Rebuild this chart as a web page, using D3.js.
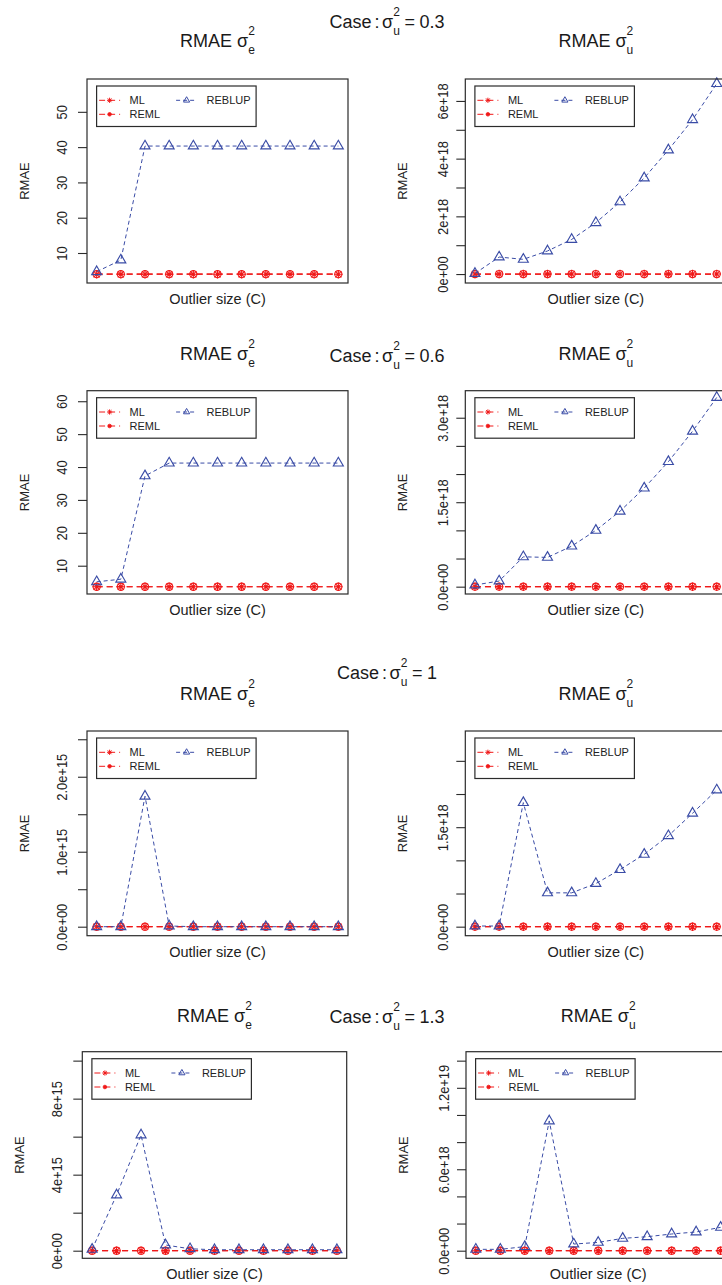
<!DOCTYPE html>
<html><head><meta charset="utf-8">
<script src="https://cdn.jsdelivr.net/npm/d3@7"></script>
<style>
body{margin:0;background:#fff}
svg{display:block}
text{font-family:"Liberation Sans",Arial,Helvetica,sans-serif}
</style>
</head><body>
<svg id="chart" width="722" height="1285"></svg>
<script>
// ---------------- DATA ----------------
const outlierSize = [1,2,3,4,5,6,7,8,9,10,11];
const seriesNames = ["ML","REML","REBLUP"];
const caseValues = ["0.3","0.6","1","1.3"];

// Case sigma_u^2 = 0.3
const ml_e_03     = [4.0,4.0,4.0,4.0,4.0,4.0,4.0,4.0,4.0,4.0,4.0];
const reml_e_03   = [4.0,4.0,4.0,4.0,4.0,4.0,4.0,4.0,4.0,4.0,4.0];
const reblup_e_03 = [4.7,8.0,40.3,40.3,40.3,40.3,40.3,40.3,40.3,40.3,40.3];
const ml_u_03     = [1,1,1,1,1,1,1,1,1,1,1];
const reml_u_03   = [1,1,1,1,1,1,1,1,1,1,1];
const reblup_u_03 = [0.02e18,0.59e18,0.51e18,0.80e18,1.20e18,1.78e18,2.50e18,3.33e18,4.30e18,5.35e18,6.60e18];

// Case sigma_u^2 = 0.6
const ml_e_06     = [3.6,3.6,3.6,3.6,3.6,3.6,3.6,3.6,3.6,3.6,3.6];
const reml_e_06   = [3.6,3.6,3.6,3.6,3.6,3.6,3.6,3.6,3.6,3.6,3.6];
const reblup_e_06 = [5.1,5.9,37.3,41.2,41.2,41.2,41.2,41.2,41.2,41.2,41.2];
const ml_u_06     = [1,1,1,1,1,1,1,1,1,1,1];
const reml_u_06   = [1,1,1,1,1,1,1,1,1,1,1];
const reblup_u_06 = [0.03e18,0.10e18,0.53e18,0.52e18,0.72e18,1.00e18,1.34e18,1.75e18,2.22e18,2.76e18,3.36e18];

// Case sigma_u^2 = 1
const ml_e_1      = [3.5,3.5,3.5,3.5,3.5,3.5,3.5,3.5,3.5,3.5,3.5];
const reml_e_1    = [3.5,3.5,3.5,3.5,3.5,3.5,3.5,3.5,3.5,3.5,3.5];
const reblup_e_1  = [0,0,1.74e15,0.01e15,0,0,0,0,0,0,0];
const ml_u_1      = [1,1,1,1,1,1,1,1,1,1,1];
const reml_u_1    = [1,1,1,1,1,1,1,1,1,1,1];
const reblup_u_1  = [0.01e18,0.01e18,1.87e18,0.51e18,0.51e18,0.65e18,0.86e18,1.09e18,1.37e18,1.71e18,2.06e18];

// Case sigma_u^2 = 1.3
const ml_e_13     = [3.5,3.5,3.5,3.5,3.5,3.5,3.5,3.5,3.5,3.5,3.5];
const reml_e_13   = [3.5,3.5,3.5,3.5,3.5,3.5,3.5,3.5,3.5,3.5,3.5];
const reblup_e_13 = [0.07e15,2.93e15,6.09e15,0.30e15,0.10e15,0.05e15,0.05e15,0.05e15,0.05e15,0.05e15,0.05e15];
const ml_u_13     = [1,1,1,1,1,1,1,1,1,1,1];
const reml_u_13   = [1,1,1,1,1,1,1,1,1,1,1];
const reblup_u_13 = [0.10e18,0.10e18,0.30e18,9.56e18,0.49e18,0.61e18,0.91e18,1.03e18,1.23e18,1.38e18,1.72e18];

// Tick values and tick labels
const ticks_e_03 = [10,20,30,40,50];
const labels_e_03 = ["10","20","30","40","50"];
const ticks_u_03 = [0,1e18,2e18,3e18,4e18,5e18,6e18];
const labels_u_03 = ["0e+00","","2e+18","","4e+18","","6e+18"];
const ticks_e_06 = [10,20,30,40,50,60];
const labels_e_06 = ["10","20","30","40","50","60"];
const ticks_u_06 = [0,0.5e18,1e18,1.5e18,2e18,2.5e18,3e18];
const labels_u_06 = ["0.0e+00","","","1.5e+18","","","3.0e+18"];
const ticks_e_1 = [0,0.5e15,1e15,1.5e15,2e15,2.5e15];
const labels_e_1 = ["0.0e+00","","1.0e+15","","2.0e+15",""];
const ticks_u_1 = [0,0.5e18,1e18,1.5e18,2e18,2.5e18];
const labels_u_1 = ["0.0e+00","","","1.5e+18","",""];
const ticks_e_13 = [0,2e15,4e15,6e15,8e15,10e15];
const labels_e_13 = ["0e+00","","4e+15","","8e+15",""];
const ticks_u_13 = [0,2e18,4e18,6e18,8e18,10e18,12e18,14e18];
const labels_u_13 = ["0.0e+00","","","6.0e+18","","","1.2e+19",""];

// ---------------- STYLE / LAYOUT ----------------
const RED = "#f01818", BLUE = "#3a4ca6", BOX = "#2b2b2b";
const svg = d3.select("#chart");

const panels = [
  {box:[87,79,348,283],      dom:[1.5,59.3],        ml:ml_e_03, reml:reml_e_03, rb:reblup_e_03, t:ticks_e_03, l:labels_e_03, sub:"e", tb:47, gap:20},
  {box:[465.3,79,726.4,283], dom:[-0.31e18,6.76e18], ml:ml_u_03, reml:reml_u_03, rb:reblup_u_03, t:ticks_u_03, l:labels_u_03, sub:"u", tb:47, gap:17},
  {box:[87,390.7,348,594],   dom:[1.4,63.2],        ml:ml_e_06, reml:reml_e_06, rb:reblup_e_06, t:ticks_e_06, l:labels_e_06, sub:"e", tb:360, gap:20},
  {box:[465.3,390.7,726.4,594], dom:[-0.13e18,3.48e18], ml:ml_u_06, reml:reml_u_06, rb:reblup_u_06, t:ticks_u_06, l:labels_u_06, sub:"u", tb:360, gap:17},
  {box:[87,731,348,935.7],   dom:[-0.12e15,2.61e15], ml:ml_e_1, reml:reml_e_1, rb:reblup_e_1, t:ticks_e_1, l:labels_e_1, sub:"e", tb:700, gap:20},
  {box:[465.3,731,726.4,935.7], dom:[-0.136e18,2.95e18], ml:ml_u_1, reml:reml_u_1, rb:reblup_u_1, t:ticks_u_1, l:labels_u_1, sub:"u", tb:700, gap:17},
  {box:[82.3,1051.7,346.7,1258.3], dom:[-0.4e15,10.47e15], ml:ml_e_13, reml:reml_e_13, rb:reblup_e_13, t:ticks_e_13, l:labels_e_13, sub:"e", tb:1021.7, gap:20},
  {box:[466,1051.7,730.4,1258.3],  dom:[-0.56e18,14.66e18], ml:ml_u_13, reml:reml_u_13, rb:reblup_u_13, t:ticks_u_13, l:labels_u_13, sub:"u", tb:1021.7, gap:17}
];
const caseTitles = [
  {v:caseValues[0], b:28.3},
  {v:caseValues[1], b:361.5},
  {v:caseValues[2], b:679},
  {v:caseValues[3], b:1023}
];

// math-like text builder
function mathText(parent, cx, base, items, fill){
  const g = parent.append("g");
  let cur = 0, prevStart = 0;
  items.forEach(it=>{
    const x = it.stack ? prevStart : cur + (it.gap||0);
    const t = g.append("text").attr("x", x).attr("y", base + (it.dy||0))
      .attr("font-size", it.s).attr("fill", fill||"#1a1a1a").text(it.t);
    const w = t.node().getComputedTextLength();
    cur = it.stack ? Math.max(cur, x + w) : x + w;
    prevStart = x;
  });
  g.attr("transform", `translate(${cx - cur/2},0)`);
  return g;
}

// marker paths
function asterisk(r){ const d=r*0.72; return `M${-r},0L${r},0M0,${-r}L0,${r}M${-d},${-d}L${d},${d}M${-d},${d}L${d},${-d}`; }
function triangle(xc){ const r=1.555*xc, yc=0.778*xc, h=1.347*xc; return `M0,${-r}L${h},${yc}L${-h},${yc}Z`; }

function drawPanel(p){
  const [x0,y0,x1,y1] = p.box;
  const x = d3.scaleLinear().domain([0.6,11.4]).range([x0,x1]);
  const y = d3.scaleLinear().domain(p.dom).range([y1,y0]);
  const g = svg.append("g");

  // y axis
  const labelMap = new Map(p.t.map((v,i)=>[v,p.l[i]]));
  const ax = g.append("g").attr("transform",`translate(${x0},0)`)
    .call(d3.axisLeft(y).tickValues(p.t).tickSize(9).tickFormat(d=>labelMap.get(d)));
  ax.select(".domain").remove();
  ax.selectAll(".tick line").attr("stroke", BOX).attr("stroke-width",1.1);
  ax.selectAll(".tick text").attr("x",null).attr("dy",null).attr("y",null)
    .attr("transform",`translate(${-p.gap},0) rotate(-90) scale(0.86,1)`)
    .attr("text-anchor","middle").attr("font-size",15).attr("fill","#222")
    .style("font-family",'"Liberation Sans",Arial,sans-serif');

  // series
  const line = d3.line().x((d,i)=>x(outlierSize[i])).y(d=>y(d));
  const red = g.append("g");
  red.append("path").attr("d", line(p.ml)).attr("fill","none").attr("stroke",RED)
    .attr("stroke-width",1.2).attr("stroke-dasharray","6,4");
  red.append("path").attr("d", line(p.reml)).attr("fill","none").attr("stroke",RED)
    .attr("stroke-width",1.2).attr("stroke-dasharray","6,4");
  red.selectAll("path.mlpt").data(p.ml).join("path").attr("class","mlpt")
    .attr("transform",(d,i)=>`translate(${x(outlierSize[i])},${y(d)})`)
    .attr("d", asterisk(4.3)).attr("stroke",RED).attr("stroke-width",1.1).attr("fill","none");
  red.selectAll("circle").data(p.reml).join("circle")
    .attr("cx",(d,i)=>x(outlierSize[i])).attr("cy",d=>y(d)).attr("r",3.6)
    .attr("stroke",RED).attr("stroke-width",1.1).attr("fill","none");

  const blue = g.append("g");
  blue.append("path").attr("d", line(p.rb)).attr("fill","none").attr("stroke",BLUE)
    .attr("stroke-width",1).attr("stroke-dasharray","4,3");
  blue.selectAll("path.tri").data(p.rb).join("path").attr("class","tri")
    .attr("transform",(d,i)=>`translate(${x(outlierSize[i])},${y(d)})`)
    .attr("d", triangle(3.7)).attr("stroke",BLUE).attr("stroke-width",1.15).attr("fill","none");

  // box
  g.append("rect").attr("x",x0).attr("y",y0).attr("width",x1-x0).attr("height",y1-y0)
    .attr("fill","none").attr("stroke",BOX).attr("stroke-width",1.2);

  // legend
  const lx = x0+9.6, ly = y0+7;
  const lg = g.append("g");
  lg.append("rect").attr("x",lx).attr("y",ly).attr("width",159.5).attr("height",40.5)
    .attr("fill","#fff").attr("stroke",BOX).attr("stroke-width",1.2);
  const rows = [
    {name:seriesNames[0], c:RED, dx:0, dy:14.3, m:"ast"},
    {name:seriesNames[1], c:RED, dx:0, dy:28.3, m:"dot"},
    {name:seriesNames[2], c:BLUE, dx:77, dy:14.3, m:"tri"}
  ];
  rows.forEach(r=>{
    const sx = lx + 2.5 + r.dx, yy = ly + r.dy;
    lg.append("line").attr("x1",sx).attr("x2",sx+21).attr("y1",yy).attr("y2",yy)
      .attr("stroke",r.c).attr("stroke-width",1).attr("stroke-dasharray", r.m==="tri"?"4,3":"6,4");
    const mx = sx+10.5;
    if(r.m==="ast") lg.append("path").attr("d",asterisk(2.6)).attr("transform",`translate(${mx},${yy})`).attr("stroke",r.c).attr("fill","none").attr("stroke-width",1);
    if(r.m==="dot") lg.append("circle").attr("cx",mx).attr("cy",yy).attr("r",1.8).attr("fill",r.c).attr("stroke",r.c).attr("stroke-width",0.8);
    if(r.m==="tri") lg.append("path").attr("d",triangle(2.3)).attr("transform",`translate(${mx},${yy})`).attr("stroke",r.c).attr("fill","none").attr("stroke-width",1);
    lg.append("text").attr("x", lx + 33 + (r.m==="tri"?77:0)).attr("y",yy).attr("dy","0.35em")
      .attr("font-size",11).attr("fill","#222").text(r.name);
  });

  // axis titles
  g.append("text").attr("x",(x0+x1)/2).attr("y",y1+21).attr("text-anchor","middle")
    .attr("font-size",14.5).attr("fill","#222").text("Outlier size (C)");
  g.append("text").attr("transform",`translate(${x0-63},${(y0+y1)/2}) rotate(-90)`)
    .attr("text-anchor","middle").attr("dy","0.35em").attr("font-size",13).attr("fill","#222").text("RMAE");

  // panel title
  mathText(svg, (x0+x1)/2, p.tb, [
    {t:"RMAE", s:18}, {t:"σ", s:18, gap:5}, {t:p.sub, s:12, dy:7}, {t:"2", s:12, dy:-12, stack:true}
  ]);
}

panels.forEach(drawPanel);

caseTitles.forEach(c=>{
  mathText(svg, 387, c.b, [
    {t:"Case", s:18}, {t:":", s:18, gap:3}, {t:"σ", s:18, gap:2.5},
    {t:"u", s:12, dy:7}, {t:"2", s:12, dy:-12, stack:true},
    {t:"=", s:18, gap:4.5}, {t:c.v, s:18, gap:4.5}
  ]);
});
</script>
</body></html>
